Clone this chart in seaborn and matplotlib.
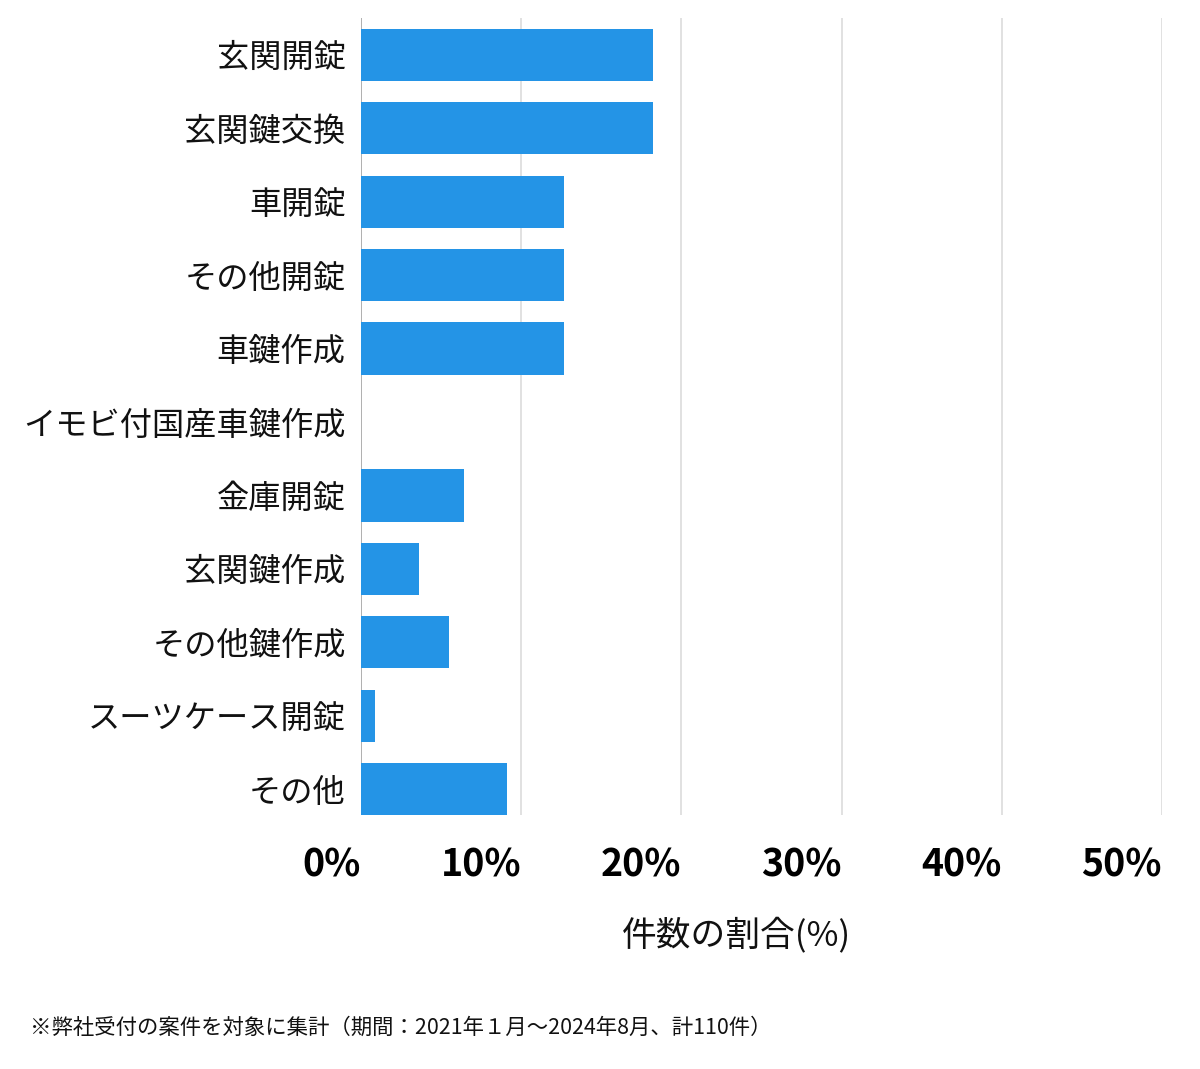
import pandas as pd
import seaborn as sns
import matplotlib.pyplot as plt
from matplotlib.ticker import FuncFormatter

# 件数の割合 (%)  -- 合計110件
categories = ['玄関開錠', '玄関鍵交換', '車開錠', 'その他開錠', '車鍵作成',
              'イモビ付国産車鍵作成', '金庫開錠', '玄関鍵作成', 'その他鍵作成',
              'スーツケース開錠', 'その他']
shares = [18.2, 18.2, 12.7, 12.7, 12.7, 0.0, 6.4, 3.6, 5.5, 0.9, 9.1]
xticks = [0, 10, 20, 30, 40, 50]

data = pd.DataFrame({'category': categories, 'share': shares})

sns.set_theme(style='white')
plt.rcParams['font.family'] = ['Noto Sans CJK JP', 'DejaVu Sans']

fig = plt.figure(figsize=(12, 10.69), dpi=100)
ax = fig.add_axes([361/1200, 1 - 815/1069, (1162-361)/1200, (815-18)/1069])

sns.barplot(data=data, x='share', y='category', color='#2494E6',
            width=0.71, saturation=1, linewidth=0, ax=ax, zorder=3)

ax.set_xlim(0, 50)
ax.set_ylim(len(categories) - 0.65, -0.5)
ax.set_xticks(xticks)
ax.xaxis.set_major_formatter(FuncFormatter(lambda v, p: f'{v:.0f}%'))
ax.grid(axis='x', color='#dcdcdc', linewidth=1.2, zorder=0)
ax.axvline(0, color='#a8a8a8', linewidth=1.2, zorder=1)
for s in ax.spines.values():
    s.set_visible(False)

ax.tick_params(axis='y', length=0, pad=11, labelsize=23.2, labelcolor='#111111')
ax.tick_params(axis='x', length=0, pad=22, labelsize=27, labelcolor='#000000')
for lab in ax.get_xticklabels():
    lab.set_fontweight('bold')
    lab.set_horizontalalignment('right')

ax.set_xlabel('')
ax.set_ylabel('')
fig.text(737/1200, 1 - 935/1069, '件数の割合(%)', ha='center', va='center',
         fontsize=25, color='#111111')
fig.text(30/1200, 1 - 1028/1069,
         '※弊社受付の案件を対象に集計（期間：2021年１月～2024年8月、計110件）',
         ha='left', va='center', fontsize=15.4, color='#111111')

fig.savefig('out.png', dpi=100)
